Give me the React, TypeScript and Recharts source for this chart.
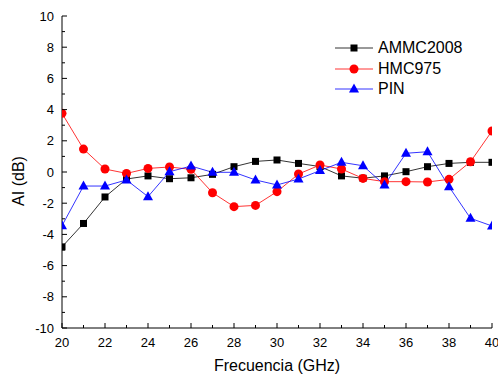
import { LineChart, Line, XAxis, YAxis, Legend } from "recharts";

const freq = [20, 21, 22, 23, 24, 25, 26, 27, 28, 29, 30, 31, 32, 33, 34, 35, 36, 37, 38, 39, 40];
const ammc2008 = [-4.8, -3.3, -1.6, -0.45, -0.25, -0.43, -0.37, -0.15, 0.34, 0.68, 0.77, 0.55, 0.35, -0.25, -0.4, -0.25, 0.02, 0.34, 0.55, 0.62, 0.62];
const hmc975 = [3.76, 1.47, 0.19, -0.09, 0.23, 0.32, 0.17, -1.33, -2.22, -2.14, -1.26, -0.13, 0.45, 0.19, -0.41, -0.62, -0.62, -0.64, -0.47, 0.66, 2.63];
const pin = [-3.44, -0.9, -0.9, -0.51, -1.58, 0.02, 0.38, -0.02, -0.02, -0.51, -0.83, -0.45, 0.09, 0.62, 0.4, -0.83, 1.2, 1.3, -0.94, -2.97, -3.46];

const xTicks = [20, 21, 22, 23, 24, 25, 26, 27, 28, 29, 30, 31, 32, 33, 34, 35, 36, 37, 38, 39, 40];
const yTicks = [-10, -9, -8, -7, -6, -5, -4, -3, -2, -1, 0, 1, 2, 3, 4, 5, 6, 7, 8, 9, 10];

const data = freq.map((f, i) => ({ f, ammc: ammc2008[i], hmc: hmc975[i], pin: pin[i] }));

const FONT = "'Liberation Sans', Arial, sans-serif";

const isMajor = (v: number) => v % 2 === 0;

// inward ticks, labels only on bottom/left majors
function BottomTick({ x, y, payload }: any) {
  const m = isMajor(payload.value);
  return (
    <g>
      <line x1={x} x2={x} y1={y} y2={y - (m ? 5 : 3)} stroke="#000" />
      {m && (
        <text x={x} y={y + 19} textAnchor="middle" fontSize={13} fontFamily={FONT} fill="#000">
          {payload.value}
        </text>
      )}
    </g>
  );
}

function LeftTick({ x, y, payload }: any) {
  const m = isMajor(payload.value);
  return (
    <g>
      <line x1={x} x2={x + (m ? 5 : 3)} y1={y} y2={y} stroke="#000" />
      {m && (
        <text x={x - 8} y={y + 4.5} textAnchor="end" fontSize={13} fontFamily={FONT} fill="#000">
          {payload.value}
        </text>
      )}
    </g>
  );
}

function TopTick({ x, y, payload }: any) {
  const m = isMajor(payload.value);
  return <line x1={x} x2={x} y1={y} y2={y + (m ? 5 : 3)} stroke="#000" />;
}

function RightTick({ x, y, payload }: any) {
  const m = isMajor(payload.value);
  return <line x1={x} x2={x - (m ? 5 : 3)} y1={y} y2={y} stroke="#000" />;
}

const squareDot = (p: any) => (
  <rect key={`s${p.index}`} x={p.cx - 3.5} y={p.cy - 3.5} width={7} height={7} fill="#000" />
);
const circleDot = (p: any) => <circle key={`c${p.index}`} cx={p.cx} cy={p.cy} r={4.5} fill="#ff0000" />;
const triDot = (p: any) => (
  <polygon
    key={`t${p.index}`}
    points={`${p.cx},${p.cy - 5.5} ${p.cx - 5},${p.cy + 3.5} ${p.cx + 5},${p.cy + 3.5}`}
    fill="#0000ff"
  />
);

function marker(name: string, cx: number, cy: number) {
  if (name === "AMMC2008") return <rect x={cx - 3.5} y={cy - 3.5} width={7} height={7} fill="#000" />;
  if (name === "HMC975") return <circle cx={cx} cy={cy} r={4.5} fill="#ff0000" />;
  return <polygon points={`${cx},${cy - 5.5} ${cx - 5},${cy + 3.5} ${cx + 5},${cy + 3.5}`} fill="#0000ff" />;
}

function LegendBox({ payload }: any) {
  return (
    <div style={{ fontFamily: FONT, fontSize: 16, color: "#000" }}>
      {(payload || []).map((e: any) => (
        <div key={e.value} style={{ display: "flex", alignItems: "center", height: 20.5 }}>
          <svg width={43} height={20} style={{ display: "block" }}>
            <line x1={0} x2={38} y1={10} y2={10} stroke={e.color} strokeWidth={0.8} />
            {marker(e.value, 19, 10)}
          </svg>
          <span style={{ lineHeight: "20px" }}>{e.value}</span>
        </div>
      ))}
    </div>
  );
}

export default function App() {
  return (
    <div style={{ position: "absolute", left: 0, top: 0, width: 498, height: 376, background: "#fff" }}>
      <LineChart width={498} height={376} data={data} margin={{ top: 16, right: 6, bottom: 0, left: 0 }}>
        <XAxis
          dataKey="f"
          type="number"
          domain={[20, 40]}
          ticks={xTicks}
          interval={0}
          allowDataOverflow
          height={48}
          tickSize={0}
          tickMargin={0}
          tickLine={false}
          axisLine={{ stroke: "#000" }}
          tick={<BottomTick />}
        />
        <XAxis
          xAxisId="top"
          orientation="top"
          dataKey="f"
          type="number"
          domain={[20, 40]}
          ticks={xTicks}
          interval={0}
          height={0}
          tickSize={0}
          tickMargin={0}
          tickLine={false}
          axisLine={{ stroke: "#000" }}
          tick={<TopTick />}
        />
        <YAxis
          type="number"
          domain={[-10, 10]}
          ticks={yTicks}
          interval={0}
          width={62}
          tickSize={0}
          tickMargin={0}
          tickLine={false}
          axisLine={{ stroke: "#000" }}
          tick={<LeftTick />}
        />
        <YAxis
          yAxisId="right"
          orientation="right"
          type="number"
          domain={[-10, 10]}
          ticks={yTicks}
          interval={0}
          width={0}
          tickSize={0}
          tickMargin={0}
          tickLine={false}
          axisLine={{ stroke: "#000" }}
          tick={<RightTick />}
        />
        <Legend
          layout="vertical"
          align="center"
          verticalAlign="middle"
          content={<LegendBox />}
          wrapperStyle={{ position: "absolute", left: 335, top: 38, width: 160 }}
        />
        <Line
          name="AMMC2008"
          dataKey="ammc"
          stroke="#000"
          strokeWidth={0.8}
          dot={squareDot}
          activeDot={false}
          isAnimationActive={false}
        />
        <Line
          name="HMC975"
          dataKey="hmc"
          stroke="#ff0000"
          strokeWidth={0.8}
          dot={circleDot}
          activeDot={false}
          isAnimationActive={false}
        />
        <Line
          name="PIN"
          dataKey="pin"
          stroke="#0000ff"
          strokeWidth={0.8}
          dot={triDot}
          activeDot={false}
          isAnimationActive={false}
        />
      </LineChart>
      <svg
        width={498}
        height={376}
        style={{ position: "absolute", left: 0, top: 0, pointerEvents: "none" }}
      >
        <text
          x={18}
          y={181}
          transform="rotate(-90 18 181)"
          textAnchor="middle"
          dominantBaseline="central"
          fontSize={16}
          fontFamily={FONT}
          fill="#000"
        >
          AI (dB)
        </text>
        <text x={277} y={371} textAnchor="middle" fontSize={16} fontFamily={FONT} fill="#000">
          Frecuencia (GHz)
        </text>
      </svg>
    </div>
  );
}
